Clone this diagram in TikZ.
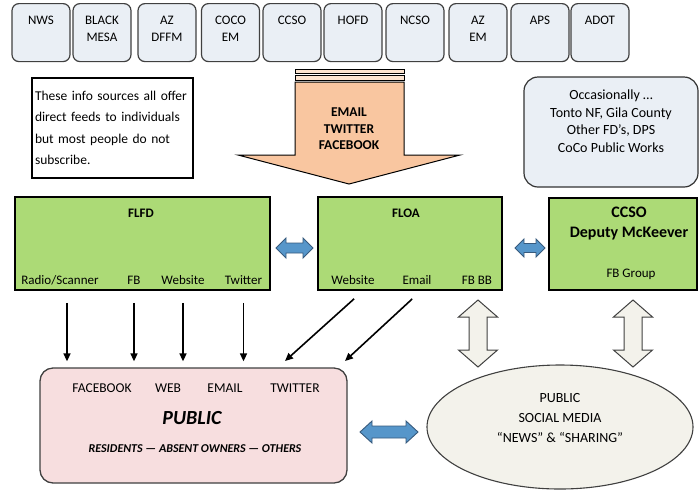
\documentclass[tikz,border=0pt]{standalone}
\usepackage{fontspec}
\setmainfont{Carlito}
\usetikzlibrary{shapes.geometric,arrows.meta}

\definecolor{srcgray}{RGB}{234,239,245}
\definecolor{feedgreen}{RGB}{172,218,118}
\definecolor{pubpink}{RGB}{247,222,223}
\definecolor{bigorange}{RGB}{249,198,160}
\definecolor{stripeorange}{RGB}{252,228,208}
\definecolor{linkblue}{RGB}{86,150,202}
\definecolor{linkline}{RGB}{55,90,125}
\definecolor{socialgray}{RGB}{243,242,235}

\begin{document}
\begin{tikzpicture}[x=1pt, y=-1pt,
    srcbox/.style={draw=black!75, line width=1.2pt, rounded corners=7pt, fill=srcgray,
        minimum width=58pt, minimum height=58pt, anchor=north},
    srctext/.style={anchor=north, yshift=-10pt, inner sep=3pt, align=center,
        font=\fontsize{13}{17}\selectfont},
    notebox/.style={draw, line width=1.3pt, text width=155pt, inner xsep=3pt,
        minimum height=100pt, align=left, font=\fontsize{13.5}{21.5}\selectfont},
    occbox/.style={draw=black!80, line width=1.2pt, rounded corners=14pt, fill=srcgray,
        minimum width=174pt, minimum height=110pt},
    feedbox/.style={draw, line width=1.8pt, fill=feedgreen},
    boxtitle/.style={font=\fontsize{13}{16}\selectfont\bfseries, align=center},
    feedlabel/.style={font=\fontsize{13}{16}\selectfont, text height=9.5pt, text depth=3pt},
    feedarrow/.style={-{Triangle[length=8pt,width=7pt]}, line width=1.6pt},
    linkarrow/.style={draw=linkline, fill=linkblue, line width=0.9pt, line join=miter},
    sharearrow/.style={draw=black!75, fill=socialgray, line width=1pt},
    pubbox/.style={draw=black!75, line width=1.3pt, rounded corners=13pt, fill=pubpink,
        minimum width=307pt, minimum height=115pt},
    publabel/.style={font=\fontsize{13.5}{16}\selectfont},
    socialbox/.style={ellipse, draw=black!75, line width=1.1pt, fill=socialgray,
        minimum width=266pt, minimum height=124pt}
]
\useasboundingbox (0,0) rectangle (700,491);

\foreach \x/\src/\txt in {41/nws/NWS, 102/mesa/{BLACK\\MESA}, 167/dffm/{AZ\\DFFM},
    230.5/cocoem/{COCO\\EM}, 292/ccsotop/CCSO, 353/hofd/HOFD, 415/ncso/NCSO,
    478/azem/{AZ\\EM}, 540/aps/APS, 600/adot/ADOT} {
    \node[srcbox] (\src) at (\x,3) {};
    \node[srctext] (\src-t) at (\src.north) {\txt};
}

\node[notebox] (note) at (112.5,128) {These info sources all offer\\direct feeds to individuals\\but most people do not\\subscribe.};

\draw[line width=1pt, fill=stripeorange] (295,69) rectangle (404,73);
\draw[line width=1pt, fill=stripeorange] (295,75) rectangle (404,80);
\draw[line width=1pt, fill=bigorange] (295,82) -- (404,82) -- (404,155) -- (460,155)
    -- (349,184) -- (238,155) -- (295,155) -- cycle;
\node[align=center, font=\fontsize{13.5}{16.5}\selectfont\bfseries] (feeds-t) at (349,129) {EMAIL\\TWITTER\\FACEBOOK};

\node[occbox] (occ) at (611,132) {};
\node[align=center, font=\fontsize{14}{17.5}\selectfont] (occ-t) at (611,121) {Occasionally …\\Tonto NF, Gila County\\Other FD’s, DPS\\CoCo Public Works};

\node[feedbox, minimum width=255pt, minimum height=93pt] (flfd) at (142.5,243.5) {};
\node[feedbox, minimum width=184pt, minimum height=93pt] (floa) at (410,243.5) {};
\node[feedbox, minimum width=148pt, minimum height=92pt] (ccso) at (623,244) {};

\node[boxtitle] (flfd-t) at (141,213) {FLFD};
\node[boxtitle] (floa-t) at (406,213) {FLOA};
\node[boxtitle, font=\fontsize{16}{20}\selectfont\bfseries] (ccso-t) at (629,224) {CCSO\\Deputy McKeever};

\node[feedlabel] (radio) at (60,281) {Radio/Scanner};
\node[feedlabel] (flfd-fb) at (134,281) {FB};
\node[feedlabel] (flfd-web) at (183,281) {Website};
\node[feedlabel] (flfd-tw) at (243.5,281) {Twitter};
\node[feedlabel] (floa-web) at (353,281) {Website};
\node[feedlabel] (floa-mail) at (417,281) {Email};
\node[feedlabel] (floa-bb) at (477,281) {FB BB};
\node[feedlabel] (ccso-fb) at (631,274) {FB Group};

\draw[linkarrow] (276,248) -- ++(10,-10) -- ++(0,5) -- ++(17,0) -- ++(0,-5) -- ++(10,10)
    -- ++(-10,10) -- ++(0,-5) -- ++(-17,0) -- ++(0,5) -- cycle;
\draw[linkarrow] (515,248) -- ++(9,-9) -- ++(0,4.5) -- ++(12,0) -- ++(0,-4.5) -- ++(9,9)
    -- ++(-9,9) -- ++(0,-4.5) -- ++(-12,0) -- ++(0,4.5) -- cycle;

\node[pubbox] (public) at (193.5,425.5) {};
\node[publabel] (pub-fb) at (102,388) {FACEBOOK};
\node[publabel] (pub-web) at (168,388) {WEB};
\node[publabel] (pub-mail) at (225,388) {EMAIL};
\node[publabel] (pub-tw) at (295,388) {TWITTER};
\node[font=\fontsize{20}{24}\selectfont\bfseries\itshape] (pub-t) at (192,418) {PUBLIC};
\node[font=\fontsize{12}{14}\selectfont\bfseries\itshape] (pub-who) at (195,449) {RESIDENTS — ABSENT OWNERS — OTHERS};

\node[socialbox] (social) at (560,427) {};
\node[align=center, font=\fontsize{14}{20}\selectfont] (social-t) at (560,418) {PUBLIC\\SOCIAL MEDIA\\“NEWS” \& “SHARING”};

\draw[linkarrow] (360,432) -- ++(12,-11) -- ++(0,5) -- ++(34,0) -- ++(0,-5) -- ++(12,11)
    -- ++(-12,11) -- ++(0,-5) -- ++(-34,0) -- ++(0,5) -- cycle;
\foreach \x in {478,633} {
    \draw[sharearrow] (\x,300) -- ++(19.5,17) -- ++(-10.5,0) -- ++(0,33) -- ++(10.5,0)
        -- (\x,367) -- ++(-19.5,-17) -- ++(10.5,0) -- ++(0,-33) -- ++(-10.5,0) -- cycle;
}

\draw[feedarrow, shorten <=12pt, shorten >=6pt] ([xshift=7pt]radio.south) -- ([xshift=7pt]radio.south |- public.north);
\draw[feedarrow, shorten <=12pt, shorten >=6pt] (flfd-fb.south) -- (flfd-fb.south |- public.north);
\draw[feedarrow, shorten <=12pt, shorten >=6pt] (flfd-web.south) -- (flfd-web.south |- public.north);
\draw[feedarrow, shorten <=12pt, shorten >=6pt] (flfd-tw.south) -- (flfd-tw.south |- public.north);

\coordinate (tip-a) at (285,361);
\coordinate (tip-b) at (345,361);
\draw[feedarrow, shorten <=12pt] ([xshift=10pt]floa-web.south) -- (tip-a);
\draw[feedarrow, shorten <=12pt] ([xshift=4pt]floa-mail.south) -- (tip-b);
\end{tikzpicture}
\end{document}
